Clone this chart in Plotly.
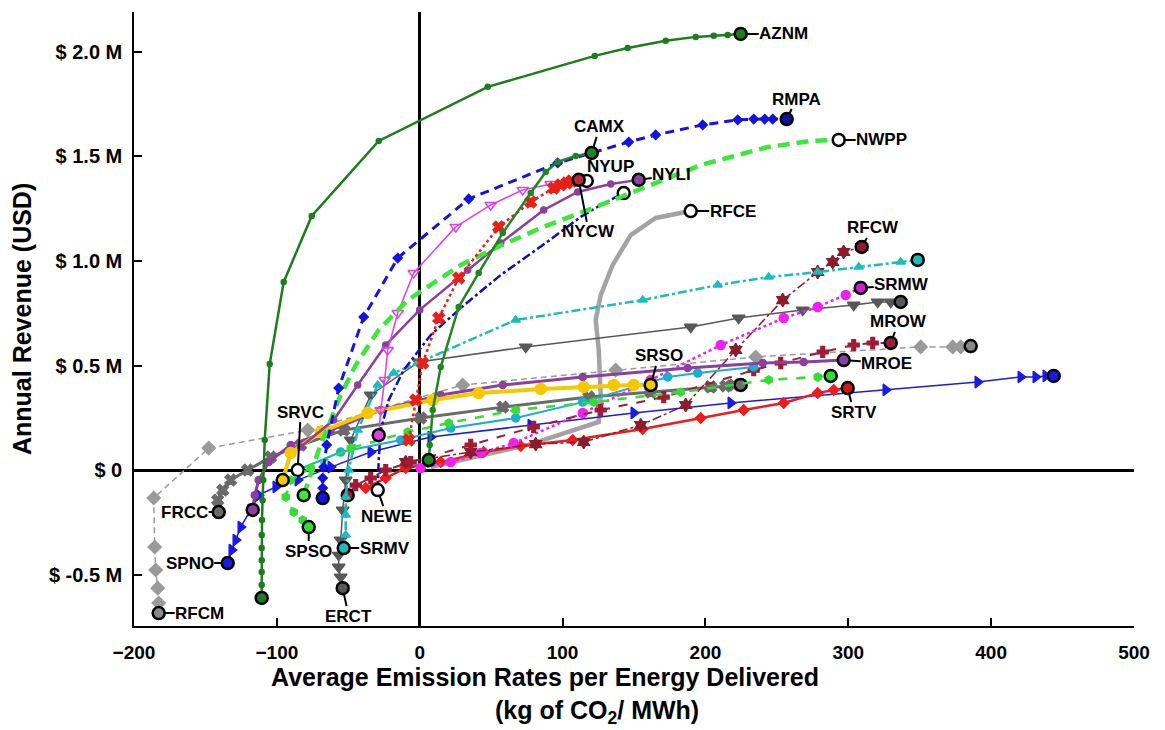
import plotly.graph_objects as go

# ---------------- data (x: kg CO2/MWh, y: annual revenue in million USD) ----------------
AZNM_x = [-110.6,-110.6,-110.6,-110.6,-110.6,-110.6,-110.4,-110.0,-109.5,-108.5,-105.0,-95.2,-75.6,-28.7,47.6,122.5,145.6,172.2,193.2,205.8,215.6,224.7]
AZNM_y = [-0.612,-0.55,-0.488,-0.431,-0.373,-0.311,-0.239,-0.144,-0.048,0.144,0.507,0.9,1.215,1.574,1.833,1.981,2.019,2.053,2.072,2.077,2.081,2.086]
CAMX_x = [6.3,7.0,9.1,14.7,27.3,41.3,58.1,77.7,88.2,96.6,109.2,120.4]
CAMX_y = [0.048,0.120,0.287,0.493,0.780,0.943,1.134,1.325,1.426,1.474,1.502,1.517]
RMPA_x = [-67.9,-67.9,-67.9,-67.2,-65.1,-56.7,-39.2,-15.4,34.3,96.6,146.3,165.2,198.1,222.6,233.8,241.5,247.1,256.9]
RMPA_y = [-0.134,-0.086,-0.038,0.014,0.120,0.392,0.732,1.014,1.297,1.469,1.569,1.603,1.651,1.675,1.679,1.679,1.679,1.679]
NWPP_x = [-81.2,-76.3,-70.7,-63.7,-55.3,-44.8,-28.7,-8.4,28.7,54.6,84.7,126.7,149.8,196.7,243.6,273.7,293.3]
NWPP_y = [-0.120,-0.024,0.096,0.215,0.359,0.502,0.670,0.813,0.981,1.067,1.158,1.268,1.330,1.459,1.545,1.574,1.579]
NYCW_x = [-7.7,-2.8,2.1,13.3,27.3,55.3,77.7,93.8,98.7,102.9,106.4,111.3]
NYCW_y = [0.144,0.335,0.512,0.727,0.919,1.163,1.282,1.349,1.364,1.373,1.383,1.388]
NYUP_x = [-28.7,-27.3,-24.5,-22.4,-15.4,-4.2,25.2,49.7,72.1,91.7,116.9]
NYUP_y = [0.167,0.287,0.431,0.574,0.751,0.943,1.163,1.268,1.340,1.368,1.383]
NYLI_x = [-83.3,-60.2,-43.4,-23.8,0.0,33.6,56.7,86.8,110.6,133.7,153.3]
NYLI_y = [0.110,0.239,0.407,0.598,0.766,0.957,1.086,1.244,1.330,1.368,1.388]
NEWE_x = [-29.4,-28.7,-27.3,-21.7,-11.2,7.7,28.7,56.7,88.2,112.7,126.7,142.8]
NEWE_y = [-0.096,0.048,0.191,0.335,0.478,0.646,0.775,0.933,1.086,1.211,1.268,1.325]
RFCE_x = [7.7,35.7,77.7,125.3,126.7,125.3,123.2,126.7,135.1,147.7,165.2,189.7]
RFCE_y = [0.014,0.057,0.124,0.230,0.359,0.574,0.718,0.837,0.981,1.124,1.206,1.239]
RFCW_x = [-9.8,35.7,81.2,114.8,154.7,186.2,221.2,254.1,278.6,289.1,296.8,309.4]
RFCW_y = [0.038,0.086,0.124,0.134,0.215,0.311,0.574,0.813,0.947,0.995,1.043,1.067]
SRMV_x = [-53.2,-51.8,-51.8,-51.8,-49.7,-43.4,-29.4,-18.2,-1.4,67.2,156.1,208.6,244.3,278.6,307.3,336.7,348.6]
SRMV_y = [-0.373,-0.311,-0.215,-0.129,0.0,0.191,0.407,0.464,0.512,0.718,0.813,0.885,0.923,0.947,0.971,0.995,1.005]
SRMW_x = [0.7,21.7,42.7,65.8,114.1,161.7,210.7,254.8,278.6,298.2,308.7]
SRMW_y = [0.010,0.038,0.081,0.129,0.273,0.431,0.598,0.727,0.780,0.837,0.871]
MROE_x = [-116.9,-115.5,-112.7,-105.7,-90.3,-62.3,-27.3,14.7,58.1,114.1,187.6,240.1,268.8,296.8]
MROE_y = [-0.191,-0.120,-0.048,0.038,0.120,0.191,0.287,0.359,0.407,0.445,0.488,0.512,0.517,0.526]
MROW_x = [-50.4,-44.8,-34.3,-23.8,-6.3,35.7,79.8,126.7,170.8,233.8,252.7,282.1,303.8,317.1,329.7]
MROW_y = [-0.120,-0.072,-0.038,0.0,0.038,0.120,0.206,0.287,0.349,0.478,0.512,0.565,0.598,0.608,0.608]
RFCM_x = [-182.7,-182.7,-183.4,-184.8,-185.5,-186.2,-147.7,-78.4,30.1,137.2,235.2,350.7,373.1,378.7,385.7]
RFCM_y = [-0.684,-0.636,-0.565,-0.478,-0.368,-0.134,0.105,0.191,0.407,0.478,0.541,0.589,0.589,0.589,0.593]
FRCC_x = [-140.7,-141.4,-137.9,-132.3,-120.4,-104.3,-83.3,-53.2,0.7,58.1,118.3,161.7,203.7,214.2,219.8,224.7]
FRCC_y = [-0.201,-0.144,-0.096,-0.048,0.0,0.062,0.120,0.191,0.249,0.301,0.349,0.373,0.397,0.402,0.407,0.407]
ERCT_x = [-53.9,-55.3,-56.7,-56.7,-55.3,-53.9,-51.8,-48.3,-34.3,-0.7,74.2,189.7,223.3,268.1,303.8,320.6,329.7,336.7]
ERCT_y = [-0.565,-0.512,-0.464,-0.407,-0.335,-0.191,-0.048,0.144,0.359,0.517,0.589,0.684,0.727,0.766,0.789,0.804,0.804,0.804]
SRTV_x = [-37.8,-23.8,-9.8,14.7,44.8,70.7,107.1,156.1,196.7,226.8,254.8,278.6,289.8,299.6]
SRTV_y = [-0.086,-0.038,0.010,0.038,0.086,0.115,0.144,0.196,0.249,0.287,0.321,0.368,0.383,0.392]
SPSO_x = [-77.7,-81.9,-88.2,-93.8,-90.3,-76.3,-48.3,-8.4,20.3,67.2,121.8,182.7,244.3,278.6,287.7]
SPSO_y = [-0.273,-0.239,-0.201,-0.129,-0.048,0.010,0.105,0.182,0.225,0.287,0.325,0.373,0.431,0.445,0.450]
SRVC_x = [-85.4,-55.3,-13.3,21.7,67.2,114.1,173.6,194.6,233.8]
SRVC_y = [0.0,0.086,0.144,0.201,0.249,0.325,0.445,0.464,0.493]
SRSO_x = [-95.9,-90.3,-69.3,-36.4,9.1,41.3,84.7,114.8,135.8,149.8,161.7]
SRSO_y = [-0.048,0.081,0.182,0.273,0.335,0.368,0.388,0.397,0.407,0.407,0.407]
SPNO_x = [-134.4,-131.6,-128.8,-125.3,-118.3,-112.7,-100.8,-85.4,-62.3,-34.3,7.7,77.7,149.8,217.7,326.2,390.6,420.7,431.2,438.2,443.8]
SPNO_y = [-0.445,-0.383,-0.335,-0.273,-0.191,-0.120,-0.081,-0.048,0.014,0.086,0.158,0.215,0.273,0.321,0.383,0.421,0.445,0.445,0.450,0.450]

x_ticks = [-200, -100, 0, 100, 200, 300, 400, 500]
y_ticks = [-0.5, 0, 0.5, 1.0, 1.5, 2.0]
y_tick_labels = ["$ -0.5 M", "$ 0", "$ 0.5 M", "$ 1.0 M", "$ 1.5 M", "$ 2.0 M"]

# ---------------- styles ----------------
W = "white"
series = [
    # name, x, y, color, width, dash, symbol, msize, endpoint fills {index: fill}
    ("RFCM", RFCM_x, RFCM_y, "#9a9a9a", 1.5, "6px,4px", "diamond", 10, {0: "#8a8a8a", -1: "#8a8a8a"}),
    ("RFCE", RFCE_x, RFCE_y, "#a3a3a3", 4.5, "solid", None, 0, {-1: W}),
    ("SPNO", SPNO_x, SPNO_y, "#1a1ae8", 1.5, "solid", "triangle-right", 10, {0: "#1a1ae8", -1: "#1a1ae8"}),
    ("ERCT", ERCT_x, ERCT_y, "#585858", 1.5, "solid", "triangle-down", 11, {0: "#585858", -1: "#585858"}),
    ("FRCC", FRCC_x, FRCC_y, "#6a6a6a", 3, "solid", "x", 10, {0: "#6a6a6a", -1: "#6a6a6a"}),
    ("SRTV", SRTV_x, SRTV_y, "#ee1c1c", 2.5, "solid", "diamond", 8, {-1: "#d01818"}),
    ("SRMW", SRMW_x, SRMW_y, "#f020f0", 2.5, "dot", "circle", 9, {-1: "#d020d0"}),
    ("RFCW", RFCW_x, RFCW_y, "#8b1c2c", 1.5, "dashdot", "hexagram", 10, {-1: "#8b1c2c"}),
    ("MROW", MROW_x, MROW_y, "#a01c35", 2, "dash", "cross", 9, {0: "#a01c35", -1: "#a01c35"}),
    ("SRMV", SRMV_x, SRMV_y, "#1cbcbc", 2.5, "dashdot", "triangle-up", 8, {0: "#1cbcbc", -1: "#1cbcbc"}),
    ("SRVC", SRVC_x, SRVC_y, "#1aaed0", 2, "solid", "circle", 8, {0: W}),
    ("SPSO", SPSO_x, SPSO_y, "#33dd33", 2.5, "dash", "hexagon", 8, {0: "#33dd33", -1: "#33dd33"}),
    ("MROE", MROE_x, MROE_y, "#8b3f9f", 3, "solid", "circle", 7, {0: "#8b3f9f", -1: "#8b3f9f"}),
    ("SRSO", SRSO_x, SRSO_y, "#f5c800", 4, "solid", "circle", 11, {0: "#f5c800", -1: "#f5c800"}),
    ("NEWE", NEWE_x, NEWE_y, "#1010b0", 2.5, "dashdot", None, 0, {0: W, -1: W}),
    ("NYLI", NYLI_x, NYLI_y, "#8c3f9e", 2.5, "solid", "circle", 6, {-1: "#8c3f9e"}),
    ("NYUP", NYUP_x, NYUP_y, "#e040e0", 1.5, "solid", "triangle-down-open", 10, {0: "#e040e0", -1: W}),
    ("NWPP", NWPP_x, NWPP_y, "#3ae83a", 4.5, "12px,7px", None, 0, {0: "#3ae83a", -1: W}),
    ("NYCW", NYCW_x, NYCW_y, "#e8201a", 2.5, "dot", "x", 10, {-1: "#c0282a"}),
    ("RMPA", RMPA_x, RMPA_y, "#1414e0", 3, "9px,6px", "diamond", 7, {0: "#1414e0", -1: "#1010a0"}),
    ("CAMX", CAMX_x, CAMX_y, "#1f861f", 2.5, "solid", "circle", 5, {0: "#1f861f", -1: "#1f861f"}),
    ("AZNM", AZNM_x, AZNM_y, "#1b7d1b", 2.5, "solid", "circle", 5, {0: "#1b7d1b", -1: "#1b7d1b"}),
]

fig = go.Figure()
for name, xs, ys, color, width, dash, symbol, msize, ends in series:
    mode = "lines+markers" if symbol else "lines"
    marker = dict(symbol=symbol, size=msize, color=color, line=dict(width=1.5, color=color)) if symbol else None
    fig.add_trace(go.Scatter(x=xs, y=ys, mode=mode, name=name,
                             line=dict(color=color, width=width, dash=dash),
                             marker=marker, showlegend=False, hoverinfo="skip"))
    ex = [xs[i] for i in ends]
    ey = [ys[i] for i in ends]
    fills = [ends[i] for i in ends]
    fig.add_trace(go.Scatter(x=ex, y=ey, mode="markers", showlegend=False, hoverinfo="skip",
                             marker=dict(symbol="circle", size=12, color=fills,
                                         line=dict(color="black", width=2.5))))

# label placement: (name, endpoint index, dx px, dy px)
labels = [
    ("AZNM", -1, 43, 0), ("RMPA", -1, 10, -20), ("NWPP", -1, 43, 0), ("CAMX", -1, 8, -26),
    ("NYLI", -1, 33, -5), ("NYCW", -1, 10, 52), ("RFCE", -1, 42, 0), ("RFCW", -1, 11, -19),
    ("SRMW", -1, 41, -3), ("MROW", -1, 8, -21), ("MROE", -1, 43, 3), ("SRTV", -1, 6, 24),
    ("SRSO", -1, 8, -29), ("SRVC", 0, 3, -58), ("FRCC", 0, -34, 0), ("SPNO", 0, -38, 0),
    ("RFCM", 0, 41, 0), ("SPSO", 0, 0, 24), ("SRMV", 0, 41, 0), ("NEWE", 0, 9, 26),
    ("ERCT", 0, 6, 28),
]
lookup = {s[0]: s for s in series}
lab_font = dict(family="Arial, Liberation Sans, sans-serif", size=17, color="black", weight="bold")
for name, idx, dx, dy in labels:
    s = lookup[name]
    fig.add_annotation(x=s[1][idx], y=s[2][idx], text=name, showarrow=True, ax=dx, ay=dy,
                       arrowhead=0, arrowwidth=2, arrowcolor="black", standoff=5,
                       font=lab_font, borderpad=0)
s = lookup["NYUP"]
fig.add_annotation(x=s[1][-1], y=s[2][-1], text="NYUP", showarrow=False, xshift=24, yshift=14,
                   font=lab_font)

title_font = dict(family="Arial, Liberation Sans, sans-serif", size=25, color="black", weight="bold")
fig.add_annotation(xref="paper", yref="paper", x=-0.112, y=0.5, text="Annual Revenue (USD)",
                   textangle=-90, showarrow=False, font=title_font, xanchor="center", yanchor="middle")
fig.add_annotation(xref="paper", yref="paper", x=0.411, y=-0.083,
                   text="Average Emission Rates per Energy Delivered",
                   showarrow=False, font=title_font, xanchor="center", yanchor="middle")
fig.add_annotation(xref="paper", yref="paper", x=0.463, y=-0.140,
                   text="(kg of CO<sub>2</sub>/ MWh)",
                   showarrow=False, font=title_font, xanchor="center", yanchor="middle")

tick_font = dict(family="Arial, Liberation Sans, sans-serif", size=19, color="black", weight="bold")
fig.update_xaxes(range=[-200, 500], tickvals=x_ticks, ticks="inside", ticklen=8, tickwidth=1.5,
                 tickcolor="black", showline=True, linecolor="black", linewidth=1.5,
                 showgrid=False, zeroline=True, zerolinecolor="black", zerolinewidth=3,
                 tickfont=tick_font, ticklabelstandoff=8)
fig.update_yaxes(range=[-0.746, 2.191], tickvals=y_ticks, ticktext=y_tick_labels, ticks="inside",
                 ticklen=8, tickwidth=1.5, tickcolor="black", showline=True, linecolor="black",
                 linewidth=1.5, showgrid=False, zeroline=True, zerolinecolor="black",
                 zerolinewidth=3, tickfont=dict(tick_font, size=20), ticklabelstandoff=6)
fig.update_layout(width=1165, height=730, margin=dict(l=134, r=31, t=12, b=104),
                  plot_bgcolor="white", paper_bgcolor="white", showlegend=False)

fig.write_html("out.html")
